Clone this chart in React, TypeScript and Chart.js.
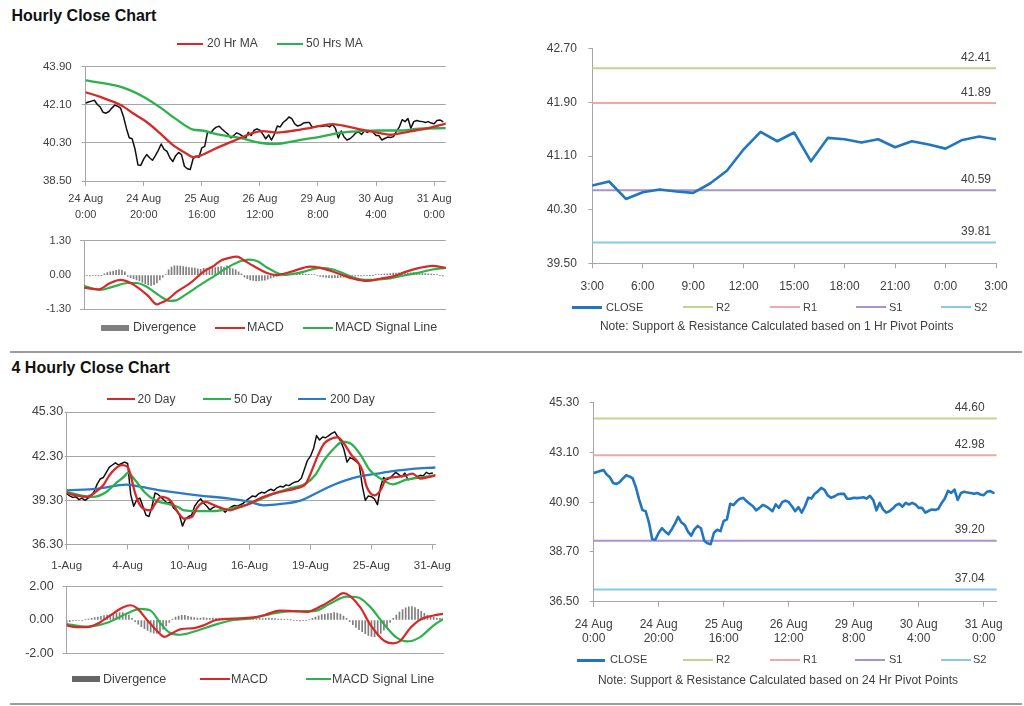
import React, { useEffect, useRef } from 'react';
import { Chart, registerables } from 'chart.js';

Chart.register(...registerables);

const FONT = 'Arial, "Liberation Sans", Helvetica, sans-serif';
const TEXT = '#404040';
const GRID = '#A6A6A6';
const RED = '#D52A2A';
const GREEN = '#2BB24C';
const BLUE200 = '#2A7AC6';
const CLOSE_BLUE = '#2176BF';
const DIV_GRAY = '#7F7F7F';
const LEVEL_COLORS = ['#BFD58E', '#EEA9A9', '#A992CD', '#86CBE0'];

// ---------------- Hourly close chart (24 Aug 0:00 - 31 Aug), one value per hour ----------------
const hourlyTickLabels = [
  ['24 Aug', '0:00'], ['24 Aug', '20:00'], ['25 Aug', '16:00'], ['26 Aug', '12:00'],
  ['29 Aug', '8:00'], ['30 Aug', '4:00'], ['31 Aug', '0:00'],
];
const hourlyTickStep = 20;
const hourlyClose = [
  42.19, 42.24, 42.28, 42.32, 42.12, 42.00, 41.75, 41.71, 41.79, 41.95,
  42.09, 42.04, 41.95, 41.55, 41.00, 40.55, 40.50, 40.00, 39.26, 39.25,
  39.55, 39.75, 39.60, 39.48, 39.70, 39.95, 40.25, 40.00, 39.90, 39.60,
  39.42, 39.70, 39.85, 39.75, 39.20, 39.08, 39.04, 39.55, 39.68, 39.62,
  40.07, 40.14, 40.83, 40.77, 40.94, 41.05, 41.09, 40.95, 40.83, 40.72,
  40.54, 40.65, 40.78, 40.72, 40.62, 40.50, 40.80, 40.65, 40.90, 40.97,
  40.90, 40.72, 40.50, 40.68, 40.44, 40.72, 41.10, 41.06, 41.27, 41.38,
  41.53, 41.45, 41.20, 41.10, 41.15, 41.24, 41.27, 41.27, 41.05, 41.05,
  41.10, 41.08, 41.10, 41.12, 41.06, 41.18, 41.00, 40.54, 40.87, 40.58,
  40.44, 40.50, 40.62, 40.77, 40.83, 40.70, 40.87, 40.80, 40.87, 40.80,
  40.65, 40.65, 40.44, 40.51, 40.58, 40.56, 40.60, 40.85, 41.05, 41.40,
  41.31, 41.46, 41.00, 41.31, 41.36, 41.33, 41.31, 41.27, 41.31, 41.24,
  41.21, 41.36, 41.39, 41.31,
];
const hourlyMaNames = ['20 Hr MA', '50 Hrs MA'];
const ma20Hourly = [
  [0, 42.70], [5, 42.48], [11, 42.16], [13, 42.02], [16, 41.73], [21, 41.29], [26, 40.71],
  [30, 40.21], [35, 39.77], [37, 39.63], [40, 39.73], [44, 39.99], [51, 40.40], [58, 40.79],
  [61, 40.86], [66, 40.79], [72, 40.89], [78, 41.03], [85, 41.19], [90, 41.08], [95, 40.93],
  [99, 40.83], [105, 40.69], [111, 40.83], [118, 41.00], [124, 41.22],
];
const ma50Hourly = [
  [0, 43.26], [11, 43.00], [15, 42.81], [20, 42.48], [26, 41.95], [31, 41.44], [37, 40.93],
  [40, 40.89], [46, 40.69], [53, 40.54], [60, 40.31], [65, 40.25], [74, 40.45], [81, 40.60],
  [88, 40.79], [95, 40.86], [101, 40.89], [108, 40.89], [115, 40.98], [124, 41.00],
];
const hourlyPriceTicks = [38.5, 40.3, 42.1, 43.9];

const macdNames = ['Divergence', 'MACD', 'MACD Signal Line'];
const hourlyDivergence = [
  -0.03, -0.02, -0.03, -0.02, -0.02, -0.03, -0.02,
  0.05, 0.09, 0.12, 0.15, 0.18, 0.20, 0.19, 0.12,
  -0.05, -0.10, -0.14, -0.18, -0.22,
  -0.28, -0.33, -0.37, -0.39, -0.36, -0.30, -0.18,
  -0.08, 0.02,
  0.20, 0.30, 0.35, 0.35, 0.34, 0.32, 0.30, 0.28, 0.27, 0.26, 0.24,
  0.22, 0.25, 0.24, 0.22, 0.26, 0.28, 0.30, 0.32, 0.30, 0.35, 0.28, 0.24, 0.20, 0.12, 0.05,
  -0.08, -0.14, -0.18, -0.20, -0.22, -0.22, -0.20, -0.19, -0.16, -0.12, -0.08, -0.04,
  0.01, 0.02, 0.03, 0.05, 0.06, 0.07, 0.07, 0.06, 0.05, 0.04, 0.03, 0.02, 0.01, -0.02,
  -0.05, -0.07, -0.09, -0.10, -0.11, -0.10, -0.10, -0.09, -0.08, -0.07, -0.06, -0.05,
  -0.04, -0.03, -0.03, -0.02, -0.02, -0.01, -0.01, 0.01, 0.02, 0.03, 0.04,
  0.05, 0.06, 0.07, 0.07, 0.08, 0.09, 0.08, 0.07, 0.08, 0.09, 0.09, 0.08, 0.07, 0.06, 0.05, 0.04, 0.03, 0.02,
  -0.02, -0.03,
];
const hourlyMacd = [
  [0, -0.48], [5, -0.54], [9, -0.30], [12.5, -0.18], [16, -0.30], [19.5, -0.56], [22, -0.79],
  [25, -1.11], [26, -1.07], [28.5, -0.94], [32, -0.62], [36.5, -0.30], [41, 0.13], [44.5, 0.35],
  [47, 0.55], [49.5, 0.64], [52.5, 0.70], [54.5, 0.58], [58, 0.35], [62.5, 0.09], [66, 0.00],
  [68.5, 0.05], [72, 0.16], [77.5, 0.32], [81, 0.27], [84.5, 0.16], [89, -0.02], [92.5, -0.14],
  [97, -0.22], [101.5, -0.14], [106, -0.05], [110.5, 0.13], [115, 0.27], [119.5, 0.35], [124, 0.27],
];
const hourlySignal = [
  [0, -0.41], [5.5, -0.56], [10, -0.44], [15, -0.30], [18, -0.30], [21.5, -0.44], [26, -0.79],
  [29.5, -0.98], [31.5, -0.96], [35, -0.73], [40, -0.36], [44.5, -0.05], [49, 0.27], [53.5, 0.52],
  [56.5, 0.58], [59.5, 0.52], [62.5, 0.30], [66, 0.09], [68.5, 0.01], [74, 0.09], [81, 0.27],
  [85.5, 0.21], [90, 0.01], [94.5, -0.16], [99, -0.18], [104, -0.14], [108, -0.05], [114, 0.07],
  [119.5, 0.21], [124, 0.27],
];
const hourlyMacdTicks = [-1.3, 0, 1.3];

// ---------------- 1 Hr pivot chart ----------------
const pivotNames = ['CLOSE', 'R2', 'R1', 'S1', 'S2'];
const pivot1Labels = ['3:00', '6:00', '9:00', '12:00', '15:00', '18:00', '21:00', '0:00', '3:00'];
const pivot1Step = 3;
const pivot1Close = [
  40.66, 40.72, 40.46, 40.56, 40.60, 40.57, 40.55, 40.69, 40.88, 41.20, 41.46, 41.32, 41.45,
  41.02, 41.37, 41.35, 41.30, 41.35, 41.23, 41.32, 41.27, 41.21, 41.34, 41.39, 41.35,
];
const pivot1Levels = [42.41, 41.89, 40.59, 39.81];
const pivot1Ticks = [39.5, 40.3, 41.1, 41.9, 42.7];

// ---------------- 4 hourly close chart (1 Aug - 31 Aug) ----------------
const fourHourTickLabels = ['1-Aug', '4-Aug', '10-Aug', '16-Aug', '19-Aug', '25-Aug', '31-Aug'];
const fourHourTickStep = 20;
const fourHourClose = [
  39.75, 39.60, 39.50, 39.55, 39.35, 39.45, 39.30, 39.45, 39.55, 39.90,
  40.40, 40.75, 40.85, 41.20, 41.55, 41.70, 41.85, 41.70, 41.80, 41.90,
  41.80, 39.70, 38.90, 39.35, 39.45, 38.90, 38.30, 38.20, 38.90, 39.80,
  39.70, 39.50, 39.30, 39.10, 39.20, 38.80, 38.60, 38.30, 37.55, 38.05,
  38.20, 38.30, 38.90, 39.20, 39.40, 39.10, 38.90, 38.65, 38.80, 38.90,
  38.80, 38.70, 38.50, 38.70, 38.85, 38.95, 38.90, 39.00, 39.10, 39.30,
  39.45, 39.60, 39.55, 39.75, 39.85, 39.80, 39.95, 40.05, 39.95, 40.15,
  40.25, 40.20, 40.35, 40.30, 40.45, 40.55, 40.60, 40.80, 41.40, 42.00,
  42.30, 42.80, 43.70, 43.40, 43.60, 43.55, 43.70, 43.85, 43.95, 43.60,
  43.30, 42.75, 41.90, 42.20, 42.10, 41.95, 41.75, 40.30, 39.30, 39.60,
  39.55, 39.40, 39.00, 40.20, 40.85, 40.70, 40.80, 41.00, 41.20, 41.05,
  40.90, 41.15, 40.70, 40.75, 40.80, 40.90, 41.00, 40.95, 41.20, 41.10,
  41.15,
];
const dayMaNames = ['20 Day', '50 Day', '200 Day'];
const ma20Day = [
  [0, 39.80], [3, 39.64], [6.5, 39.53], [9.5, 39.87], [12, 40.32], [14, 41.00], [16, 41.46],
  [18, 41.69], [20, 41.57], [21, 41.00], [22.5, 39.75], [24.5, 38.85], [27.5, 38.62], [29, 39.07],
  [31, 39.53], [34, 39.30], [36.5, 38.50], [38.5, 38.05], [41, 38.16], [43, 38.85], [45.5, 39.19],
  [48.5, 38.96], [51.5, 38.73], [53.5, 38.62], [57, 38.85], [60, 39.07], [64, 39.48], [70, 39.87],
  [75, 40.10], [78.5, 40.44], [80.5, 41.35], [82.5, 42.37], [84.5, 43.16], [87, 43.50], [89, 43.57],
  [91, 43.16], [93.5, 42.37], [95.5, 41.91], [97, 41.35], [98.5, 40.21], [101, 39.64], [103, 39.98],
  [105, 40.78], [108.5, 40.89], [111.5, 41.00], [113.5, 41.12], [116, 40.78], [119, 40.89], [121, 41.00],
];
const ma50Day = [
  [0, 39.87], [4.5, 39.64], [8.5, 39.53], [13, 39.87], [16, 40.44], [19, 40.94], [20, 41.16],
  [22.5, 40.66], [25.5, 39.87], [29, 39.30], [33, 39.07], [36.5, 38.85], [38.5, 38.62], [43, 38.57],
  [48, 38.57], [53.5, 38.73], [60, 39.07], [66.5, 39.64], [73, 40.10], [78.5, 40.44], [81.5, 41.00],
  [84.5, 42.03], [88, 42.89], [90.5, 43.28], [93.5, 43.12], [96.5, 42.37], [99.5, 41.35], [103, 40.78],
  [107, 40.39], [111.5, 40.71], [116, 40.85], [121, 41.00],
];
const ma200Day = [
  [0, 39.98], [10.5, 40.10], [19.5, 40.37], [23.5, 40.25], [32, 39.94], [43, 39.64], [53.5, 39.41],
  [60, 39.19], [64.5, 38.96], [71, 39.07], [77, 39.30], [81.5, 39.75], [86, 40.21], [91, 40.62],
  [96.5, 40.94], [102, 41.12], [107, 41.28], [113.5, 41.44], [121, 41.53],
];
const fourHourPriceTicks = [36.3, 39.3, 42.3, 45.3];
const fourHourDivergence = [
  -0.15, -0.10, -0.06, -0.04, -0.03, -0.02, 0.02,
  0.06, 0.10, 0.14, 0.18, 0.22, 0.26, 0.30, 0.34, 0.38, 0.42, 0.45, 0.45, 0.40, 0.30,
  0.10, -0.10, -0.25, -0.40, -0.52, -0.62, -0.72, -0.78, -0.80, -0.72, -0.55, -0.35, -0.15,
  0.05, 0.18, 0.24, 0.28, 0.28, 0.22, 0.18,
  0.15, 0.12, 0.12, 0.14, 0.12, 0.10, 0.12, 0.10, 0.08, 0.10,
  0.12, 0.08, 0.06, 0.08, 0.10, 0.08, 0.06, 0.08, 0.06, 0.05,
  0.08, 0.10, 0.08, 0.10, 0.12, 0.10, 0.08, 0.06, 0.05, 0.04,
  0.02, 0.01, -0.02, -0.04, -0.05, -0.04, -0.02, 0.04, 0.10,
  0.18, 0.25, 0.32, 0.36, 0.38, 0.40, 0.44, 0.42, 0.36, 0.24, 0.10,
  -0.10, -0.28, -0.44, -0.58, -0.70, -0.82, -0.92, -0.98, -1.00, -0.95, -0.80, -0.60, -0.38, -0.15,
  0.10, 0.30, 0.48, 0.62, 0.72, 0.78, 0.80, 0.74, 0.64, 0.52, 0.40, 0.30, 0.22, 0.16, 0.12, 0.10,
];
const fourHourMacd = [
  [0, -0.32], [3, -0.43], [6.5, -0.43], [10.5, -0.16], [15, 0.40], [18, 0.75], [20.5, 0.88],
  [22.5, 0.72], [25.5, 0.08], [29, -0.64], [31.5, -1.01], [33, -0.88], [36.5, -0.56], [41, -0.48],
  [44, -0.32], [48, 0.00], [53.5, 0.08], [60, 0.16], [64, 0.32], [68.5, 0.56], [73, 0.53],
  [77, 0.48], [81.5, 0.80], [86, 1.28], [89, 1.60], [91, 1.44], [94.5, 0.72], [97.5, -0.24],
  [102, -1.23], [105, -1.39], [107, -1.28], [110.5, -0.48], [113.5, 0.00], [118, 0.27], [121, 0.37],
];
const fourHourSignal = [
  [0, -0.24], [6.5, -0.40], [13, -0.16], [19.5, 0.40], [23.5, 0.67], [27, 0.56], [30, -0.16],
  [33, -0.75], [36.5, -0.88], [41, -0.69], [47, -0.32], [53.5, 0.00], [60, 0.11], [66.5, 0.40],
  [73, 0.53], [79.5, 0.53], [84.5, 0.96], [90, 1.39], [93.5, 1.36], [97.5, 0.80], [102, -0.24],
  [106, -1.04], [109.5, -1.28], [113.5, -1.04], [118, -0.32], [121, 0.05],
];
const fourHourMacdTicks = [-2, 0, 2];

// ---------------- 24 Hr pivot chart (uses hourlyClose) ----------------
const pivot24Levels = [44.60, 42.98, 39.20, 37.04];
const pivot24Ticks = [36.5, 38.7, 40.9, 43.1, 45.3];

const sectionTitles = ['Hourly Close Chart', '4 Hourly Close Chart'];
const notes = [
  'Note: Support & Resistance Calculated based on 1 Hr Pivot Points',
  'Note: Support & Resistance Calculated based on 24 Hr Pivot Points',
];

// ---------------- helpers ----------------
type Box = { left: number; top: number; width: number; height: number };
type Area = { left: number; top: number; right: number; bottom: number };
type Fit = { padding: any; yWidth: number; xHeight: number };

const seq = (arr: number[]) => arr.map((y, x) => ({ x, y }));
const pts = (arr: number[][]) => arr.map(([x, y]) => ({ x, y }));

function fitFor(box: Box, area: Area): Fit {
  return {
    padding: { left: 0, top: area.top - box.top, right: box.left + box.width - area.right, bottom: 0 },
    yWidth: area.left - box.left,
    xHeight: box.top + box.height - area.bottom,
  };
}

function baseOptions(fit: Fit, scales: any) {
  return {
    responsive: false,
    animation: false,
    events: [],
    layout: { padding: fit.padding },
    plugins: { legend: { display: false }, tooltip: { enabled: false }, title: { display: false } },
    elements: { point: { radius: 0 }, line: { borderJoinStyle: 'round', borderCapStyle: 'round' } },
    scales,
  };
}

function xScale(fit: Fit, min: number, max: number, step: number, labels: any[] | null, o: any = {}) {
  const base: any = {
    type: 'linear', min, max, offset: false,
    afterFit: (s: any) => { s.height = fit.xHeight; },
    border: { display: true, color: GRID, width: 1 },
  };
  if (!labels) {
    return { ...base, ticks: { display: false }, grid: { display: false } };
  }
  const values = labels.map((_, i) => min + i * step);
  return {
    ...base,
    afterBuildTicks: (s: any) => { s.ticks = values.map((v) => ({ value: v })); },
    ticks: {
      display: true, autoSkip: false, maxRotation: 0, minRotation: 0,
      padding: o.padding ?? 5, color: TEXT,
      font: { family: FONT, size: o.fontSize ?? 11, lineHeight: o.lineHeight ?? 1.2 },
      callback: (_v: any, i: number) => labels[i],
    },
    grid: { display: true, drawOnChartArea: false, drawTicks: true, tickLength: o.tickLength ?? 5, color: GRID, offset: false },
  };
}

function yScale(fit: Fit, values: number[], o: any) {
  return {
    type: 'linear', min: values[0], max: values[values.length - 1],
    afterBuildTicks: (s: any) => { s.ticks = values.map((v) => ({ value: v })); },
    afterFit: (s: any) => { s.width = fit.yWidth; },
    ticks: {
      padding: o.padding, color: TEXT, font: { family: FONT, size: o.fontSize },
      callback: (v: any) => Number(v).toFixed(2),
    },
    grid: {
      drawOnChartArea: !!o.gridOnArea, drawTicks: true, tickLength: o.tickLength ?? 4,
      color: o.hideZero ? (c: any) => (c.tick && Math.abs(c.tick.value) < 1e-9 ? 'rgba(0,0,0,0)' : GRID) : GRID,
    },
    border: { display: true, color: GRID },
  };
}

function levelLabelPlugin(levels: number[], rightGap: number) {
  return {
    id: 'levelLabels',
    afterDatasetsDraw(chart: any) {
      const { ctx, chartArea, scales } = chart;
      ctx.save();
      ctx.font = `12px ${FONT}`;
      ctx.fillStyle = TEXT;
      ctx.textAlign = 'right';
      ctx.textBaseline = 'middle';
      levels.forEach((v) => {
        ctx.fillText(v.toFixed(2), chartArea.right - rightGap, scales.y.getPixelForValue(v) - 10.5);
      });
      ctx.restore();
    },
  };
}

function ChartCanvas({ box, area, build }: { box: Box; area: Area; build: (fit: Fit) => any }) {
  const ref = useRef<HTMLCanvasElement>(null);
  useEffect(() => {
    const chart = new Chart(ref.current as HTMLCanvasElement, build(fitFor(box, area)));
    return () => chart.destroy();
  }, []);
  return (
    <canvas
      ref={ref}
      width={box.width}
      height={box.height}
      style={{ position: 'absolute', left: box.left, top: box.top, width: box.width, height: box.height }}
    />
  );
}

type LegendItem = { x: number; w: number; tx: number; label: string; color: string; thick: number };
function Legend({ y, items, fontSize }: { y: number; items: LegendItem[]; fontSize: number }) {
  const lh = fontSize * 1.2;
  return (
    <>
      {items.map((it, i) => (
        <React.Fragment key={i}>
          <div style={{ position: 'absolute', left: Math.round(it.x), top: Math.round(y - it.thick / 2), width: Math.round(it.w), height: it.thick, background: it.color }} />
          <div style={{ position: 'absolute', left: it.tx, top: y - lh / 2, fontSize, lineHeight: `${lh}px`, color: TEXT, whiteSpace: 'nowrap' }}>
            {it.label}
          </div>
        </React.Fragment>
      ))}
    </>
  );
}

function macdDatasets(div: number[], macd: number[][], signal: number[][]) {
  return [
    { type: 'bar', label: macdNames[0], data: seq(div), backgroundColor: DIV_GRAY, borderWidth: 0, barThickness: 1, order: 3 },
    { type: 'line', label: macdNames[2], data: pts(signal), borderColor: GREEN, borderWidth: 2.2, cubicInterpolationMode: 'monotone', pointRadius: 0, order: 2 },
    { type: 'line', label: macdNames[1], data: pts(macd), borderColor: RED, borderWidth: 2.2, cubicInterpolationMode: 'monotone', pointRadius: 0, order: 1 },
  ];
}

function levelDatasets(levels: number[], xmin: number, xmax: number) {
  return levels.map((v, i) => ({
    label: pivotNames[i + 1],
    data: [{ x: xmin, y: v }, { x: xmax, y: v }],
    borderColor: LEVEL_COLORS[i], borderWidth: 2, pointRadius: 0, order: 2,
  }));
}

export default function App() {
  const hourlyMax = 124;
  const fourHourMax = 121;

  return (
    <div style={{ position: 'absolute', left: 0, top: 0, width: 1024, height: 706, background: '#fff', fontFamily: FONT, overflow: 'hidden' }}>
      {/* Hourly price */}
      <ChartCanvas
        box={{ left: 0, top: 50, width: 460, height: 170 }}
        area={{ left: 85.7, top: 56.7, right: 445.7, bottom: 181 }}
        build={(fit) => ({
          type: 'line',
          data: {
            datasets: [
              { label: 'Price', data: seq(hourlyClose), borderColor: '#111', borderWidth: 1.5, pointRadius: 0, order: 3 },
              { label: hourlyMaNames[1], data: pts(ma50Hourly), borderColor: GREEN, borderWidth: 2.3, cubicInterpolationMode: 'monotone', pointRadius: 0, order: 2 },
              { label: hourlyMaNames[0], data: pts(ma20Hourly), borderColor: RED, borderWidth: 2.3, cubicInterpolationMode: 'monotone', pointRadius: 0, order: 1 },
            ],
          },
          options: baseOptions(fit, {
            x: xScale(fit, 0, hourlyMax, hourlyTickStep, hourlyTickLabels, { fontSize: 11, lineHeight: 16 / 11, padding: 5 }),
            y: yScale(fit, hourlyPriceTicks, { fontSize: 11.5, padding: 10, gridOnArea: true }),
          }),
        })}
      />
      {/* Hourly MACD */}
      <ChartCanvas
        box={{ left: 0, top: 225, width: 460, height: 100 }}
        area={{ left: 84, top: 240.7, right: 445.7, bottom: 316.7 }}
        build={(fit) => ({
          type: 'line',
          data: { datasets: macdDatasets(hourlyDivergence, hourlyMacd, hourlySignal) },
          options: baseOptions(fit, {
            x: xScale(fit, 0, hourlyMax, hourlyTickStep, null),
            y: yScale(fit, hourlyMacdTicks, { fontSize: 11, padding: 9, gridOnArea: true, hideZero: true }),
          }),
        })}
      />
      {/* 1 Hr pivot */}
      <ChartCanvas
        box={{ left: 520, top: 30, width: 500, height: 270 }}
        area={{ left: 592.3, top: 46.7, right: 996, bottom: 263.3 }}
        build={(fit) => ({
          type: 'line',
          data: {
            datasets: [
              { label: pivotNames[0], data: seq(pivot1Close), borderColor: CLOSE_BLUE, borderWidth: 2.6, pointRadius: 0, order: 0 },
              ...levelDatasets(pivot1Levels, 0, pivot1Close.length - 1),
            ],
          },
          options: baseOptions(fit, {
            x: xScale(fit, 0, pivot1Close.length - 1, pivot1Step, pivot1Labels, { fontSize: 12, padding: 11 }),
            y: yScale(fit, pivot1Ticks, { fontSize: 12, padding: 11.5, gridOnArea: false }),
          }),
          plugins: [levelLabelPlugin(pivot1Levels, 5)],
        })}
      />
      {/* 4 hourly price */}
      <ChartCanvas
        box={{ left: 0, top: 402, width: 460, height: 173 }}
        area={{ left: 66.7, top: 412, right: 443, bottom: 544.5 }}
        build={(fit) => ({
          type: 'line',
          data: {
            datasets: [
              { label: 'Price', data: seq(fourHourClose), borderColor: '#111', borderWidth: 1.5, pointRadius: 0, order: 4 },
              { label: dayMaNames[2], data: pts(ma200Day), borderColor: BLUE200, borderWidth: 2.3, cubicInterpolationMode: 'monotone', pointRadius: 0, order: 3 },
              { label: dayMaNames[1], data: pts(ma50Day), borderColor: GREEN, borderWidth: 2.3, cubicInterpolationMode: 'monotone', pointRadius: 0, order: 2 },
              { label: dayMaNames[0], data: pts(ma20Day), borderColor: RED, borderWidth: 2.3, cubicInterpolationMode: 'monotone', pointRadius: 0, order: 1 },
            ],
          },
          options: baseOptions(fit, {
            x: xScale(fit, 0, fourHourMax, fourHourTickStep, fourHourTickLabels, { fontSize: 11.5, padding: 9 }),
            y: yScale(fit, fourHourPriceTicks, { fontSize: 12.5, padding: 1.5, tickLength: 2, gridOnArea: true }),
          }),
        })}
      />
      {/* 4 hourly MACD */}
      <ChartCanvas
        box={{ left: 0, top: 570, width: 460, height: 100 }}
        area={{ left: 66.7, top: 580, right: 443, bottom: 663.3 }}
        build={(fit) => ({
          type: 'line',
          data: { datasets: macdDatasets(fourHourDivergence, fourHourMacd, fourHourSignal) },
          options: baseOptions(fit, {
            x: xScale(fit, 0, fourHourMax, fourHourTickStep, null),
            y: yScale(fit, fourHourMacdTicks, { fontSize: 12.5, padding: 9, gridOnArea: true, hideZero: true }),
          }),
        })}
      />
      {/* 24 Hr pivot */}
      <ChartCanvas
        box={{ left: 520, top: 385, width: 500, height: 270 }}
        area={{ left: 593.7, top: 402.7, right: 996.7, bottom: 601.7 }}
        build={(fit) => ({
          type: 'line',
          data: {
            datasets: [
              { label: pivotNames[0], data: seq(hourlyClose), borderColor: CLOSE_BLUE, borderWidth: 2.6, pointRadius: 0, order: 0 },
              ...levelDatasets(pivot24Levels, 0, hourlyMax),
            ],
          },
          options: baseOptions(fit, {
            x: xScale(fit, 0, hourlyMax, hourlyTickStep, hourlyTickLabels, { fontSize: 12, padding: 10.5 }),
            y: yScale(fit, pivot24Ticks, { fontSize: 12, padding: 10.5, gridOnArea: false }),
          }),
          plugins: [levelLabelPlugin(pivot24Levels, 12)],
        })}
      />

      {/* titles */}
      <div style={{ position: 'absolute', left: 11.5, top: 5.6, fontSize: 16, fontWeight: 'bold', lineHeight: '19.2px', color: '#111', whiteSpace: 'nowrap' }}>{sectionTitles[0]}</div>
      <div style={{ position: 'absolute', left: 11.5, top: 357.5, fontSize: 16, fontWeight: 'bold', lineHeight: '19.2px', color: '#111', whiteSpace: 'nowrap' }}>{sectionTitles[1]}</div>

      {/* separators */}
      <div style={{ position: 'absolute', left: 10, top: 351, width: 1012, height: 2, background: '#9C9C9C' }} />
      <div style={{ position: 'absolute', left: 10, top: 703, width: 1012, height: 2, background: '#9C9C9C' }} />

      {/* legends */}
      <Legend y={43.5} fontSize={12} items={[
        { x: 177, w: 26, tx: 207, label: hourlyMaNames[0], color: RED, thick: 2 },
        { x: 276.5, w: 26, tx: 306, label: hourlyMaNames[1], color: GREEN, thick: 2 },
      ]} />
      <Legend y={327.7} fontSize={12.5} items={[
        { x: 100.7, w: 28.3, tx: 133, label: macdNames[0], color: DIV_GRAY, thick: 6 },
        { x: 215, w: 30, tx: 247, label: macdNames[1], color: RED, thick: 2 },
        { x: 303.3, w: 30, tx: 335, label: macdNames[2], color: GREEN, thick: 2 },
      ]} />
      <Legend y={307.3} fontSize={11} items={[
        { x: 572, w: 30, tx: 606, label: pivotNames[0], color: CLOSE_BLUE, thick: 3 },
        { x: 683, w: 30, tx: 716, label: pivotNames[1], color: LEVEL_COLORS[0], thick: 2 },
        { x: 769.5, w: 30, tx: 803, label: pivotNames[2], color: LEVEL_COLORS[1], thick: 2 },
        { x: 855.5, w: 30, tx: 889, label: pivotNames[3], color: LEVEL_COLORS[2], thick: 2 },
        { x: 941, w: 30, tx: 974, label: pivotNames[4], color: LEVEL_COLORS[3], thick: 2 },
      ]} />
      <Legend y={399.3} fontSize={12} items={[
        { x: 106.7, w: 28.3, tx: 137.5, label: dayMaNames[0], color: RED, thick: 2 },
        { x: 203.3, w: 27.5, tx: 234, label: dayMaNames[1], color: GREEN, thick: 2 },
        { x: 298.3, w: 28.4, tx: 330, label: dayMaNames[2], color: BLUE200, thick: 2 },
      ]} />
      <Legend y={679.3} fontSize={12.5} items={[
        { x: 71.7, w: 28.3, tx: 103, label: macdNames[0], color: '#666', thick: 6 },
        { x: 200, w: 30, tx: 231, label: macdNames[1], color: RED, thick: 2 },
        { x: 306, w: 25, tx: 332, label: macdNames[2], color: GREEN, thick: 2 },
      ]} />
      <Legend y={660} fontSize={11} items={[
        { x: 577, w: 28, tx: 610, label: pivotNames[0], color: CLOSE_BLUE, thick: 3 },
        { x: 683.3, w: 30, tx: 716, label: pivotNames[1], color: LEVEL_COLORS[0], thick: 2 },
        { x: 770, w: 30, tx: 803, label: pivotNames[2], color: LEVEL_COLORS[1], thick: 2 },
        { x: 855, w: 30, tx: 889, label: pivotNames[3], color: LEVEL_COLORS[2], thick: 2 },
        { x: 940.7, w: 30, tx: 973, label: pivotNames[4], color: LEVEL_COLORS[3], thick: 2 },
      ]} />

      {/* notes */}
      <div style={{ position: 'absolute', left: 576.7, width: 400, top: 325.7 - 7.2, fontSize: 12, lineHeight: '14.4px', color: TEXT, textAlign: 'center', whiteSpace: 'nowrap' }}>{notes[0]}</div>
      <div style={{ position: 'absolute', left: 578, width: 400, top: 680 - 7.2, fontSize: 12, lineHeight: '14.4px', color: TEXT, textAlign: 'center', whiteSpace: 'nowrap' }}>{notes[1]}</div>
    </div>
  );
}
